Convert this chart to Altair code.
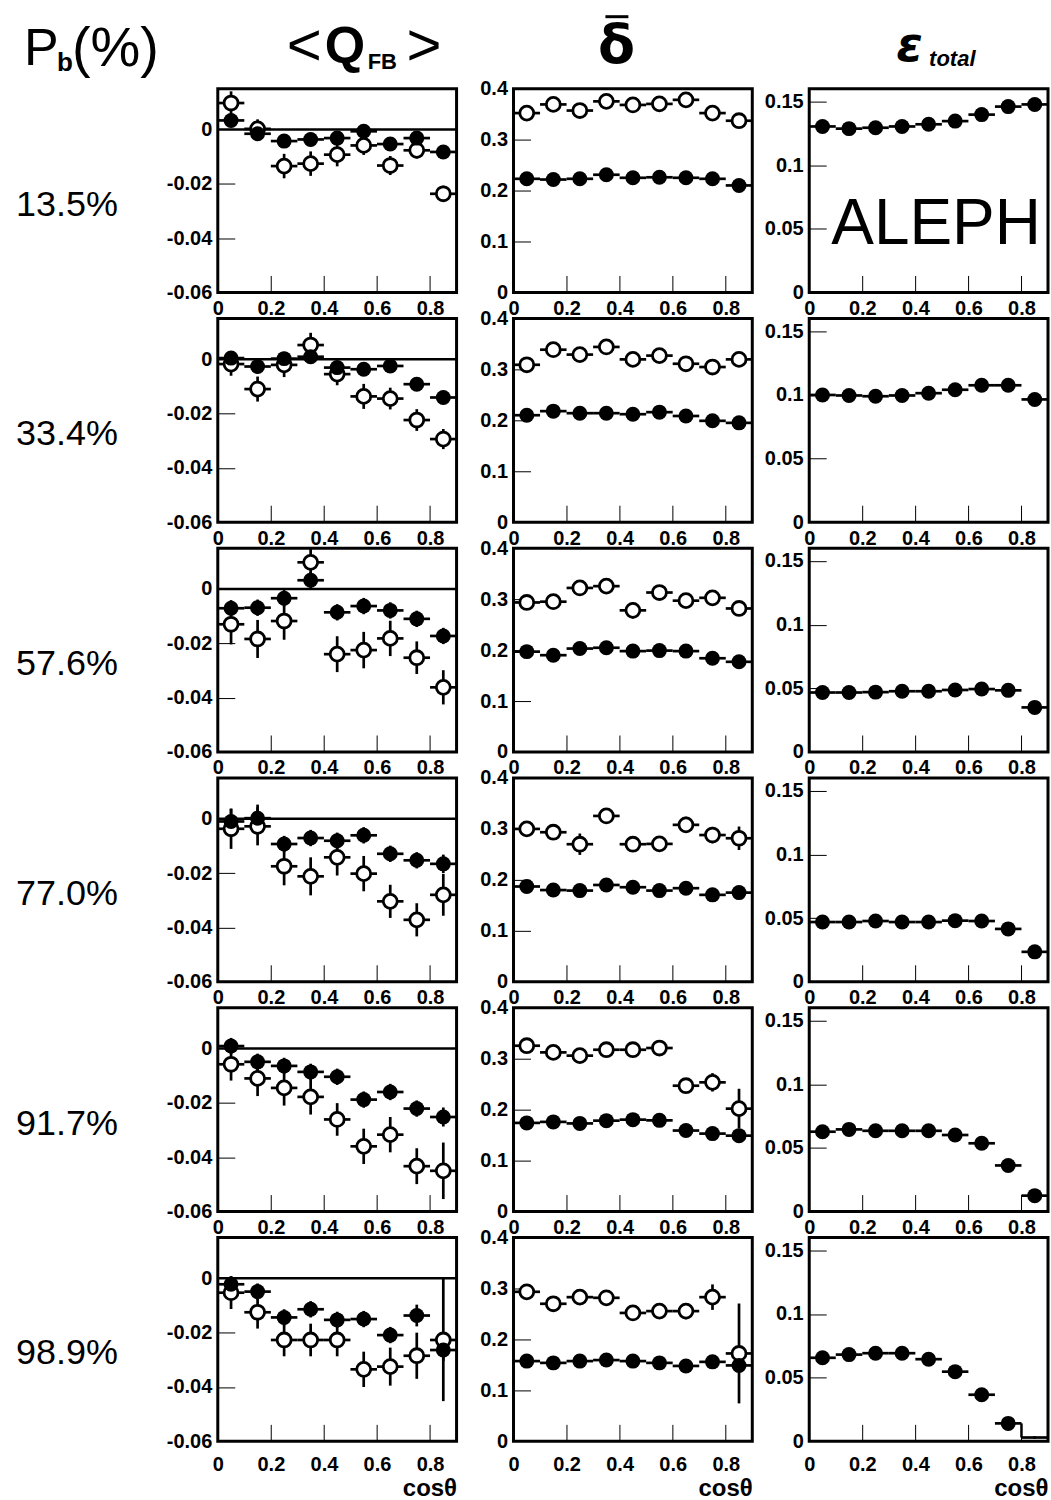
import altair as alt
import pandas as pd

FONT = "Liberation Sans"

cos_bins = [0.05, 0.15, 0.25, 0.35, 0.45, 0.55, 0.65, 0.75, 0.85]
purity_labels = ["13.5%", "33.4%", "57.6%", "77.0%", "91.7%", "98.9%"]

x_ticks = [0, 0.2, 0.4, 0.6, 0.8]
q_ticks = [-0.06, -0.04, -0.02, 0]
d_ticks = [0, 0.1, 0.2, 0.3, 0.4]
e_ticks = [0, 0.05, 0.1, 0.15]

# <Q_FB> : filled = data, open = second sample
q_filled = [
    [0.0033, -0.0016, -0.0043, -0.0037, -0.0032, -0.0007, -0.0054, -0.0032, -0.0083],
    [0.0004, -0.0027, 0.0002, 0.0009, -0.0031, -0.0037, -0.0025, -0.0092, -0.0141],
    [-0.0071, -0.0069, -0.0034, 0.0032, -0.0086, -0.0063, -0.0079, -0.0110, -0.0173],
    [-0.0010, 0.0002, -0.0093, -0.0071, -0.0081, -0.0061, -0.0129, -0.0153, -0.0166],
    [0.0009, -0.0049, -0.0064, -0.0086, -0.0104, -0.0188, -0.0160, -0.0221, -0.0252],
    [-0.0022, -0.0049, -0.0144, -0.0114, -0.0153, -0.0150, -0.0209, -0.0137, -0.0264],
]
q_filled_err = [
    [0.0025] * 9,
    [0.0025] * 9,
    [0.0030] * 9,
    [0.0047, 0.0050, 0.0030, 0.0030, 0.0030, 0.0030, 0.0030, 0.0030, 0.0034],
    [0.0030, 0.0030, 0.0030, 0.0030, 0.0030, 0.0030, 0.0030, 0.0030, 0.0035],
    [0.0030, 0.0030, 0.0030, 0.0030, 0.0030, 0.0030, 0.0030, 0.0040, 0.0040],
]
q_open = [
    [0.0097, 0.0002, -0.0135, -0.0126, -0.0093, -0.0059, -0.0133, -0.0077, -0.0237],
    [-0.0018, -0.0110, -0.0021, 0.0052, -0.0055, -0.0137, -0.0145, -0.0224, -0.0294],
    [-0.0130, -0.0184, -0.0118, 0.0098, -0.0240, -0.0225, -0.0182, -0.0253, -0.0362],
    [-0.0037, -0.0028, -0.0175, -0.0212, -0.0142, -0.0202, -0.0304, -0.0372, -0.0280],
    [-0.0058, -0.0110, -0.0145, -0.0178, -0.0261, -0.0360, -0.0317, -0.0433, -0.0450],
    [-0.0053, -0.0125, -0.0227, -0.0227, -0.0227, -0.0335, -0.0325, -0.0285, -0.0227],
]
q_open_err = [
    [0.0043, 0.0035, 0.0045, 0.0045, 0.0043, 0.0035, 0.0035, 0.0030, 0.0030],
    [0.0043, 0.0046, 0.0045, 0.0045, 0.0041, 0.0046, 0.0040, 0.0040, 0.0037],
    [0.0074, 0.0070, 0.0069, 0.0054, 0.0066, 0.0067, 0.0065, 0.0060, 0.0063],
    [0.0074, 0.0070, 0.0070, 0.0070, 0.0067, 0.0065, 0.0061, 0.0061, 0.0077],
    [0.0060, 0.0065, 0.0065, 0.0065, 0.0060, 0.0065, 0.0065, 0.0066, 0.0104],
    [0.0060, 0.0060, 0.0060, 0.0060, 0.0060, 0.0065, 0.0070, 0.0085, 0.0225],
]

# delta-bar
d_filled = [
    [0.223, 0.2216, 0.223, 0.231, 0.225, 0.226, 0.225, 0.223, 0.210],
    [0.210, 0.218, 0.214, 0.214, 0.212, 0.216, 0.2085, 0.199, 0.195],
    [0.197, 0.190, 0.203, 0.2046, 0.198, 0.199, 0.198, 0.184, 0.177],
    [0.187, 0.180, 0.179, 0.190, 0.1856, 0.179, 0.1837, 0.1706, 0.175],
    [0.174, 0.176, 0.173, 0.1784, 0.1804, 0.179, 0.159, 0.153, 0.149],
    [0.1575, 0.154, 0.1575, 0.1595, 0.1575, 0.154, 0.148, 0.156, 0.149],
]
d_filled_err = [[0.005] * 9 for _ in range(6)]
d_open = [
    [0.352, 0.369, 0.357, 0.375, 0.368, 0.370, 0.378, 0.352, 0.337],
    [0.309, 0.3386, 0.329, 0.344, 0.3196, 0.327, 0.311, 0.3046, 0.3196],
    [0.2935, 0.295, 0.322, 0.3255, 0.278, 0.313, 0.297, 0.3026, 0.2817],
    [0.300, 0.2935, 0.270, 0.3255, 0.270, 0.2706, 0.308, 0.288, 0.2817],
    [0.3255, 0.3124, 0.306, 0.3176, 0.3176, 0.321, 0.247, 0.2536, 0.202],
    [0.2935, 0.270, 0.283, 0.2817, 0.252, 0.2556, 0.2556, 0.283, 0.1725],
]
d_open_err = [
    [0.008] * 9,
    [0.008] * 9,
    [0.010, 0.010, 0.012, 0.012, 0.016, 0.012, 0.012, 0.014, 0.014],
    [0.012, 0.012, 0.021, 0.012, 0.014, 0.014, 0.016, 0.016, 0.023],
    [0.010, 0.010, 0.010, 0.010, 0.012, 0.012, 0.014, 0.018, 0.039],
    [0.012, 0.012, 0.012, 0.012, 0.012, 0.014, 0.016, 0.025, 0.098],
]

# epsilon_total
e_vals = [
    [0.1303, 0.1286, 0.1293, 0.1303, 0.1320, 0.1345, 0.1396, 0.1459, 0.1476],
    [0.0999, 0.0995, 0.0989, 0.0995, 0.1013, 0.1040, 0.1075, 0.1075, 0.0964],
    [0.0467, 0.0467, 0.0470, 0.0477, 0.0477, 0.0487, 0.0494, 0.0484, 0.0350],
    [0.0469, 0.0469, 0.0477, 0.0469, 0.0469, 0.0480, 0.0477, 0.0415, 0.0235],
    [0.0627, 0.0645, 0.0634, 0.0634, 0.0634, 0.0601, 0.0536, 0.0362, 0.0125],
    [0.0656, 0.0681, 0.0692, 0.0692, 0.0645, 0.0547, 0.0366, 0.0141, 0.0030],
]
e_err = [[0.001] * 9 for _ in range(6)]

W, H = 239, 204
XS = alt.Scale(domain=[0, 0.9], nice=False, zero=False)


def label_axis(values, orient, pad, title=None):
    kw = dict(
        values=values, orient=orient, labelExpr="toString(datum.value)",
        ticks=False, domain=False, grid=False, labelFont=FONT, labelFontSize=20,
        labelFontWeight="bold", labelColor="black", labelPadding=pad,
        labelFlush=False, labelOverlap=False,
    )
    if title:
        kw.update(title=title, titleFont=FONT, titleFontSize=24, titleFontWeight="bold",
                  titleColor="black", titleX=W, titleY=54, titleAlign="right",
                  titleBaseline="alphabetic", titleAngle=0)
    else:
        kw.update(title=None)
    return alt.Axis(**kw)


def tick_axis(values, orient):
    return alt.Axis(values=values, orient=orient, labels=False, domain=False, grid=False,
                    ticks=True, tickSize=17, tickColor="black", tickWidth=1, offset=-17,
                    title=None)


def text_layer(txt, x, y, size, weight="normal", style="normal", align="left", font=FONT):
    return alt.Chart(pd.DataFrame({"t": [txt]})).mark_text(
        align=align, baseline="alphabetic", font=font, fontSize=size,
        fontWeight=weight, fontStyle=style, color="black"
    ).encode(x=alt.value(x), y=alt.value(y), text="t:N")


def panel(r, c):
    if c == 0:
        dom, lab, inner = [-0.06, 0.015], q_ticks, [-0.04, -0.02]
        series = [("open", q_open[r], q_open_err[r]), ("filled", q_filled[r], q_filled_err[r])]
    elif c == 1:
        dom, lab, inner = [0, 0.4], d_ticks, [0.1, 0.2, 0.3]
        series = [("open", d_open[r], d_open_err[r]), ("filled", d_filled[r], d_filled_err[r])]
    else:
        dom, lab, inner = [0, 0.16], e_ticks, [0.05, 0.1, 0.15]
        series = [("filled", e_vals[r], e_err[r])]
    ys = alt.Scale(domain=dom, nice=False, zero=False)

    rows = []
    for kind, vals, errs in series:
        for xc, v, e in zip(cos_bins, vals, errs):
            rows.append(dict(x=xc, lo=xc - 0.05, hi=xc + 0.05, y=v, ylo=v - e, yhi=v + e, kind=kind))
    df = pd.DataFrame(rows)
    base = alt.Chart(df)

    last = r == 5
    xlab = label_axis(x_ticks, "bottom", 13 if last else 6, "cosθ" if last else None)
    ylab = label_axis(lab, "left", 6)

    layers = []
    if c == 0:
        layers.append(alt.Chart(pd.DataFrame({"y": [0]})).mark_rule(color="black", strokeWidth=2.5)
                      .encode(y=alt.Y("y:Q", scale=ys, axis=None)))
    layers.append(base.mark_rule(color="black", strokeWidth=2.7).encode(
        x=alt.X("lo:Q", scale=XS, axis=xlab), x2="hi:Q",
        y=alt.Y("y:Q", scale=ys, axis=ylab)))
    layers.append(base.mark_rule(color="black", strokeWidth=2.7).encode(
        x=alt.X("x:Q", scale=XS, axis=tick_axis([0.2, 0.4, 0.6, 0.8], "bottom")),
        y=alt.Y("ylo:Q", scale=ys, axis=tick_axis(inner, "left")), y2="yhi:Q"))
    if c == 2 and r == 5:
        step = pd.DataFrame({"x": [cos_bins[-1] - 0.05], "y1": [e_vals[r][-2]], "y2": [e_vals[r][-1]]})
        layers.append(alt.Chart(step).mark_rule(color="black", strokeWidth=2.5).encode(
            x=alt.X("x:Q", scale=XS, axis=None), y=alt.Y("y1:Q", scale=ys, axis=None), y2="y2:Q"))
    if c < 2:
        layers.append(base.transform_filter(alt.datum.kind == "open").mark_point(
            shape="circle", filled=True, fill="white", stroke="black", strokeWidth=2.8,
            size=195, opacity=1).encode(
            x=alt.X("x:Q", scale=XS, axis=None), y=alt.Y("y:Q", scale=ys, axis=None)))
    if c == 2:
        # the last efficiency bin of the purest sample is drawn as a bare histogram step
        filled_base = base.transform_filter(alt.datum.y >= 0.005)
    else:
        filled_base = base.transform_filter(alt.datum.kind == "filled")
    layers.append(filled_base.mark_circle(color="black", size=225, opacity=1).encode(
        x=alt.X("x:Q", scale=XS, axis=None), y=alt.Y("y:Q", scale=ys, axis=None)))

    if c == 2 and r == 0:
        layers.append(alt.Chart(pd.DataFrame({"t": ["ALEPH"]})).mark_text(
            font=FONT, fontSize=64, align="center", baseline="middle", color="black"
        ).encode(x=alt.value(127), y=alt.value(137), text="t:N"))

    if c == 0:
        layers.append(text_layer(purity_labels[r], -202, 127, 36))
    if c == 0 and r == 0:
        # invisible anchor that fixes the page origin
        layers.append(alt.Chart(pd.DataFrame({"a": [0]})).mark_rule(strokeOpacity=0, opacity=0).encode(
            x=alt.value(-216), x2=alt.value(-215), y=alt.value(-86)))
        layers += [
            text_layer("P", -194, -24, 52),
            text_layer("b", -161, -18, 26, weight="bold"),
            text_layer("(%)", -146, -23, 56),
            text_layer("<", 69, -24, 60),
            text_layer("Q", 107, -26, 52, weight="bold"),
            text_layer("FB", 150, -20, 22, weight="bold"),
            text_layer(">", 189, -24, 60),
            text_layer("δ", 399, -26, 54, weight="bold", align="center", font="DejaVu Sans"),
            alt.Chart(pd.DataFrame({"a": [0]})).mark_rule(color="black", strokeWidth=3).encode(
                x=alt.value(388), x2=alt.value(411), y=alt.value(-72)),
            text_layer("ε", 679, -28, 48, weight="bold", style="italic", font="DejaVu Sans"),
            text_layer("total", 712, -23, 22, weight="bold", style="italic"),
        ]

    return alt.layer(*layers).resolve_axis(x="independent", y="independent").properties(width=W, height=H)


panels = [panel(r, c) for r in range(6) for c in range(3)]

chart = alt.concat(*panels, columns=3, spacing={"row": 26, "column": 57}, bounds="flush").properties(
    padding=0, background="white"
).configure_view(stroke="black", strokeWidth=3)

chart.save("out.html", embed_options={"renderer": "svg", "actions": False})
